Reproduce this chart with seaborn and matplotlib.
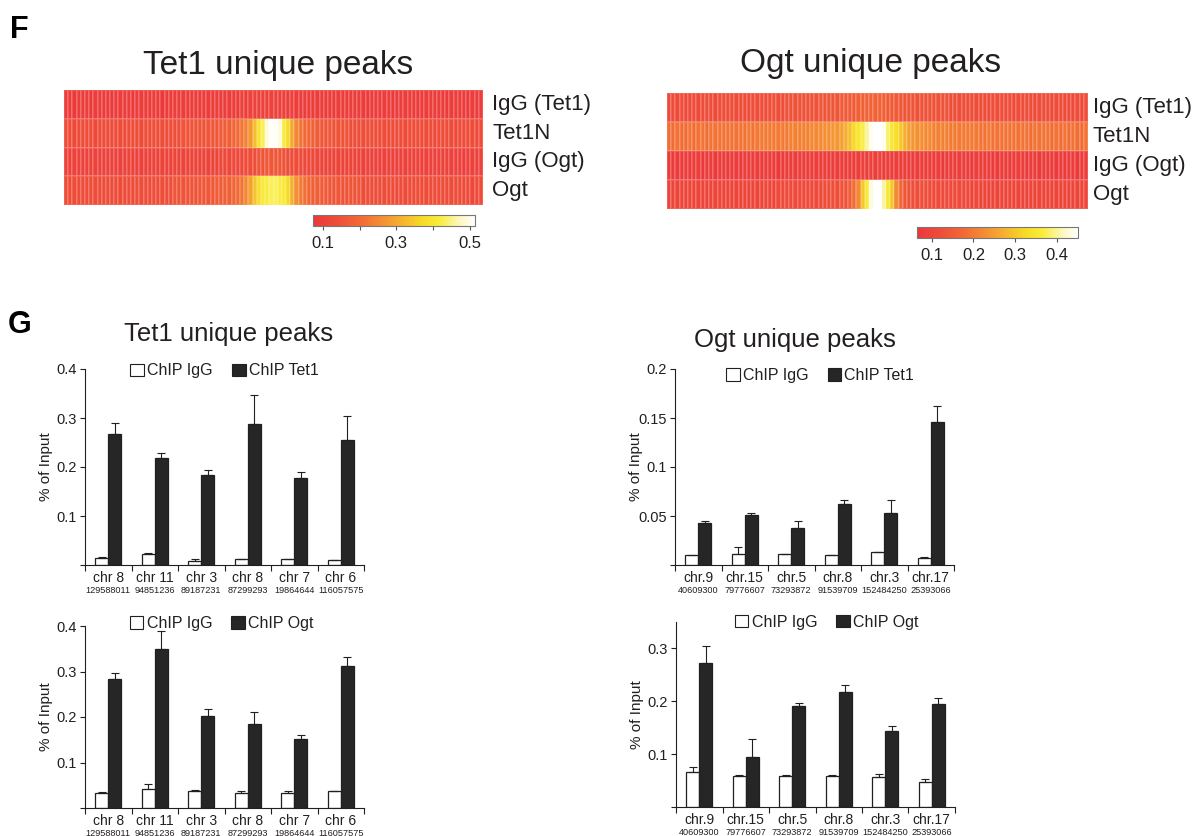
import numpy as np
import pandas as pd
import matplotlib
matplotlib.use("Agg")
import matplotlib.pyplot as plt
from matplotlib.colors import LinearSegmentedColormap
from matplotlib.patches import Patch
import seaborn as sns

sns.set_style("ticks")
plt.rcParams["font.family"] = ["Liberation Sans", "DejaVu Sans"]

INK = "#231F20"
W, H = 1199, 836

# ---------------- heatmap data (mean signal per bin around peak centre) ----------------
track_rows = ["IgG (Tet1)", "Tet1N", "IgG (Ogt)", "Ogt"]

tet1_peaks_igg_tet1 = [
    0.09, 0.09, 0.08, 0.09, 0.09, 0.09, 0.08, 0.09, 0.09, 0.09,
    0.09, 0.08, 0.09, 0.09, 0.09, 0.09, 0.08, 0.09, 0.09, 0.09,
    0.09, 0.09, 0.09, 0.08, 0.09, 0.09, 0.09, 0.09, 0.09, 0.09,
    0.09, 0.09, 0.09, 0.09, 0.09, 0.09, 0.09, 0.09, 0.09, 0.09,
    0.09, 0.09, 0.10, 0.09, 0.10, 0.10, 0.10, 0.10, 0.10, 0.10,
    0.10, 0.10, 0.10, 0.09, 0.10, 0.09, 0.09, 0.09, 0.09, 0.09,
    0.09, 0.09, 0.09, 0.09, 0.09, 0.09, 0.09, 0.09, 0.09, 0.09,
    0.09, 0.09, 0.08, 0.09, 0.09, 0.09, 0.09, 0.09, 0.08, 0.09,
    0.09, 0.09, 0.09, 0.09, 0.08, 0.09, 0.09, 0.09, 0.09, 0.09,
    0.09, 0.08, 0.09, 0.09, 0.09, 0.09, 0.08, 0.09, 0.09, 0.09,
]
tet1_peaks_tet1n = [
    0.13, 0.13, 0.12, 0.13, 0.13, 0.13, 0.13, 0.12, 0.13, 0.13,
    0.13, 0.13, 0.13, 0.13, 0.13, 0.13, 0.14, 0.13, 0.13, 0.14,
    0.14, 0.14, 0.14, 0.14, 0.14, 0.14, 0.14, 0.14, 0.15, 0.15,
    0.15, 0.15, 0.15, 0.15, 0.16, 0.16, 0.16, 0.17, 0.17, 0.18,
    0.19, 0.20, 0.22, 0.24, 0.27, 0.33, 0.39, 0.43, 0.49, 0.51,
    0.51, 0.49, 0.42, 0.37, 0.30, 0.25, 0.22, 0.20, 0.19, 0.18,
    0.17, 0.16, 0.16, 0.16, 0.15, 0.15, 0.15, 0.15, 0.14, 0.14,
    0.14, 0.14, 0.14, 0.14, 0.14, 0.14, 0.13, 0.13, 0.13, 0.14,
    0.13, 0.13, 0.13, 0.13, 0.13, 0.13, 0.13, 0.13, 0.12, 0.13,
    0.13, 0.13, 0.13, 0.12, 0.13, 0.13, 0.13, 0.13, 0.12, 0.13,
]
tet1_peaks_igg_ogt = [
    0.10, 0.10, 0.10, 0.10, 0.10, 0.10, 0.10, 0.10, 0.10, 0.10,
    0.10, 0.10, 0.10, 0.10, 0.10, 0.11, 0.10, 0.10, 0.10, 0.10,
    0.11, 0.10, 0.10, 0.11, 0.11, 0.10, 0.11, 0.11, 0.11, 0.11,
    0.11, 0.11, 0.11, 0.11, 0.11, 0.11, 0.11, 0.12, 0.12, 0.12,
    0.12, 0.12, 0.12, 0.13, 0.13, 0.14, 0.15, 0.15, 0.16, 0.16,
    0.16, 0.16, 0.15, 0.14, 0.14, 0.13, 0.13, 0.12, 0.12, 0.12,
    0.12, 0.11, 0.11, 0.11, 0.11, 0.11, 0.11, 0.11, 0.11, 0.11,
    0.11, 0.10, 0.11, 0.10, 0.10, 0.10, 0.10, 0.10, 0.10, 0.10,
    0.10, 0.10, 0.10, 0.10, 0.10, 0.10, 0.10, 0.10, 0.10, 0.10,
    0.10, 0.10, 0.10, 0.10, 0.10, 0.09, 0.10, 0.10, 0.10, 0.10,
]
tet1_peaks_ogt = [
    0.13, 0.13, 0.13, 0.13, 0.13, 0.13, 0.13, 0.13, 0.13, 0.13,
    0.13, 0.13, 0.13, 0.13, 0.13, 0.14, 0.13, 0.14, 0.14, 0.14,
    0.14, 0.14, 0.14, 0.14, 0.14, 0.14, 0.15, 0.15, 0.15, 0.15,
    0.15, 0.15, 0.16, 0.16, 0.16, 0.16, 0.17, 0.17, 0.18, 0.18,
    0.19, 0.20, 0.22, 0.25, 0.29, 0.34, 0.38, 0.41, 0.42, 0.43,
    0.43, 0.42, 0.41, 0.37, 0.31, 0.26, 0.23, 0.21, 0.19, 0.18,
    0.18, 0.17, 0.17, 0.16, 0.16, 0.16, 0.15, 0.15, 0.15, 0.15,
    0.15, 0.14, 0.14, 0.14, 0.14, 0.14, 0.14, 0.14, 0.14, 0.13,
    0.13, 0.13, 0.13, 0.13, 0.13, 0.13, 0.13, 0.13, 0.13, 0.13,
    0.13, 0.13, 0.13, 0.13, 0.13, 0.13, 0.13, 0.12, 0.13, 0.13,
]

ogt_peaks_igg_tet1 = [
    0.11, 0.12, 0.11, 0.12, 0.11, 0.11, 0.12, 0.11, 0.12, 0.12,
    0.12, 0.11, 0.12, 0.12, 0.12, 0.12, 0.12, 0.12, 0.12, 0.12,
    0.12, 0.12, 0.12, 0.12, 0.12, 0.13, 0.12, 0.12, 0.13, 0.13,
    0.13, 0.13, 0.13, 0.13, 0.13, 0.13, 0.14, 0.14, 0.14, 0.14,
    0.14, 0.15, 0.15, 0.15, 0.15, 0.16, 0.16, 0.16, 0.16, 0.16,
    0.16, 0.16, 0.15, 0.15, 0.15, 0.14, 0.14, 0.14, 0.14, 0.13,
    0.13, 0.13, 0.13, 0.13, 0.13, 0.13, 0.13, 0.12, 0.12, 0.12,
    0.12, 0.12, 0.12, 0.12, 0.12, 0.12, 0.12, 0.12, 0.12, 0.12,
    0.12, 0.12, 0.11, 0.12, 0.12, 0.12, 0.12, 0.11, 0.12, 0.12,
    0.12, 0.11, 0.12, 0.12, 0.11, 0.12, 0.11, 0.12, 0.11, 0.12,
]
ogt_peaks_tet1n = [
    0.18, 0.18, 0.19, 0.18, 0.18, 0.19, 0.18, 0.19, 0.19, 0.18,
    0.19, 0.19, 0.19, 0.19, 0.19, 0.19, 0.19, 0.19, 0.19, 0.20,
    0.19, 0.20, 0.20, 0.20, 0.20, 0.20, 0.20, 0.20, 0.20, 0.21,
    0.21, 0.21, 0.21, 0.21, 0.22, 0.22, 0.22, 0.23, 0.23, 0.24,
    0.24, 0.25, 0.27, 0.29, 0.32, 0.35, 0.37, 0.40, 0.44, 0.45,
    0.45, 0.44, 0.38, 0.35, 0.33, 0.30, 0.27, 0.25, 0.24, 0.23,
    0.23, 0.22, 0.22, 0.21, 0.21, 0.21, 0.21, 0.20, 0.20, 0.20,
    0.20, 0.20, 0.20, 0.20, 0.19, 0.19, 0.20, 0.19, 0.19, 0.19,
    0.19, 0.19, 0.19, 0.19, 0.19, 0.19, 0.18, 0.19, 0.19, 0.19,
    0.19, 0.18, 0.19, 0.18, 0.19, 0.18, 0.19, 0.18, 0.18, 0.19,
]
ogt_peaks_igg_ogt = [
    0.08, 0.07, 0.08, 0.07, 0.08, 0.07, 0.08, 0.08, 0.07, 0.08,
    0.08, 0.07, 0.08, 0.08, 0.07, 0.08, 0.08, 0.07, 0.08, 0.08,
    0.08, 0.08, 0.07, 0.08, 0.08, 0.08, 0.07, 0.08, 0.08, 0.08,
    0.08, 0.08, 0.08, 0.08, 0.08, 0.08, 0.08, 0.08, 0.08, 0.08,
    0.08, 0.08, 0.08, 0.08, 0.08, 0.08, 0.09, 0.08, 0.09, 0.08,
    0.09, 0.08, 0.08, 0.08, 0.08, 0.08, 0.08, 0.08, 0.08, 0.08,
    0.08, 0.08, 0.08, 0.08, 0.08, 0.07, 0.08, 0.08, 0.08, 0.08,
    0.08, 0.08, 0.07, 0.08, 0.08, 0.08, 0.08, 0.07, 0.08, 0.08,
    0.08, 0.07, 0.08, 0.08, 0.08, 0.07, 0.08, 0.08, 0.07, 0.08,
    0.08, 0.08, 0.07, 0.08, 0.07, 0.08, 0.08, 0.07, 0.08, 0.08,
]
ogt_peaks_ogt = [
    0.10, 0.10, 0.10, 0.10, 0.10, 0.10, 0.10, 0.10, 0.10, 0.10,
    0.10, 0.10, 0.10, 0.10, 0.10, 0.10, 0.10, 0.10, 0.10, 0.10,
    0.10, 0.10, 0.10, 0.11, 0.10, 0.10, 0.11, 0.11, 0.11, 0.11,
    0.11, 0.11, 0.11, 0.11, 0.11, 0.11, 0.11, 0.12, 0.12, 0.12,
    0.12, 0.13, 0.13, 0.15, 0.18, 0.22, 0.30, 0.36, 0.43, 0.45,
    0.45, 0.40, 0.35, 0.30, 0.22, 0.17, 0.14, 0.13, 0.12, 0.12,
    0.12, 0.12, 0.11, 0.11, 0.11, 0.11, 0.11, 0.11, 0.11, 0.11,
    0.11, 0.11, 0.10, 0.11, 0.10, 0.10, 0.10, 0.10, 0.10, 0.10,
    0.10, 0.10, 0.10, 0.10, 0.10, 0.10, 0.10, 0.10, 0.10, 0.10,
    0.10, 0.10, 0.10, 0.10, 0.10, 0.10, 0.10, 0.10, 0.10, 0.10,
]

tet1_cbar_ticks = [0.1, 0.2, 0.3, 0.4, 0.5]
tet1_cbar_labels = ["0.1", "", "0.3", "", "0.5"]
ogt_cbar_ticks = [0.1, 0.2, 0.3, 0.4]
ogt_cbar_labels = ["0.1", "0.2", "0.3", "0.4"]

# ---------------- ChIP-qPCR data (% of input, mean and SD) ----------------
tet1_loci_chr = ["chr 8", "chr 11", "chr 3", "chr 8", "chr 7", "chr 6"]
tet1_loci_pos = ["129588011", "94851236", "89187231", "87299293", "19864644", "116057575"]
ogt_loci_chr = ["chr.9", "chr.15", "chr.5", "chr.8", "chr.3", "chr.17"]
ogt_loci_pos = ["40609300", "79776607", "73293872", "91539709", "152484250", "25393066"]

# Tet1 unique peaks, Tet1 ChIP
t1_igg = [0.0135, 0.022, 0.009, 0.0115, 0.0115, 0.0095]
t1_igg_sd = [0.0025, 0.0015, 0.004, 0.0015, 0.0005, 0.0015]
t1_tet1 = [0.268, 0.218, 0.184, 0.2885, 0.178, 0.256]
t1_tet1_sd = [0.022, 0.010, 0.010, 0.058, 0.012, 0.049]
# Ogt unique peaks, Tet1 ChIP
og_igg = [0.010, 0.011, 0.011, 0.010, 0.013, 0.007]
og_igg_sd = [0.0007, 0.007, 0.0005, 0.0007, 0.0007, 0.001]
og_tet1 = [0.043, 0.051, 0.038, 0.062, 0.053, 0.146]
og_tet1_sd = [0.002, 0.0024, 0.0068, 0.004, 0.013, 0.016]
# Tet1 unique peaks, Ogt ChIP
t1o_igg = [0.033, 0.042, 0.037, 0.033, 0.033, 0.037]
t1o_igg_sd = [0.002, 0.011, 0.003, 0.0035, 0.0035, 0.0005]
t1o_ogt = [0.284, 0.350, 0.203, 0.184, 0.152, 0.311]
t1o_ogt_sd = [0.013, 0.038, 0.015, 0.028, 0.009, 0.021]
# Ogt unique peaks, Ogt ChIP
ogo_igg = [0.067, 0.058, 0.058, 0.058, 0.056, 0.0465]
ogo_igg_sd = [0.009, 0.002, 0.002, 0.002, 0.007, 0.007]
ogo_ogt = [0.273, 0.095, 0.191, 0.217, 0.143, 0.195]
ogo_ogt_sd = [0.031, 0.034, 0.005, 0.014, 0.010, 0.011]

ticks_04 = [0, 0.1, 0.2, 0.3, 0.4]
labels_04 = ["", "0.1", "0.2", "0.3", "0.4"]
ticks_02 = [0, 0.05, 0.1, 0.15, 0.2]
labels_02 = ["", "0.05", "0.1", "0.15", "0.2"]
ticks_03 = [0, 0.1, 0.2, 0.3]
labels_03 = ["", "0.1", "0.2", "0.3"]

# ---------------- styling helpers ----------------
heat_cmap = LinearSegmentedColormap.from_list(
    "heat_soft",
    [(0.0, "#EC383C"), (0.15, "#EE4E39"), (0.30, "#F26C35"), (0.50, "#F5A432"),
     (0.68, "#F7DC26"), (0.78, "#F9EC3A"), (0.90, "#FCF7B8"), (1.0, "#FFFFFF")],
)


def box(x0, y0, x1, y1):
    return [x0 / W, 1 - y1 / H, (x1 - x0) / W, (y1 - y0) / H]


fig = plt.figure(figsize=(W / 100, H / 100), dpi=100)


def heat_panel(rect, cbar_rect, rows, vmin, vmax, cticks, clabels, label_pad):
    ax = fig.add_axes(box(*rect))
    cax = fig.add_axes(box(*cbar_rect))
    df = pd.DataFrame(np.array(rows), index=track_rows)
    sns.heatmap(df, ax=ax, cmap=heat_cmap, vmin=vmin, vmax=vmax,
                cbar=True, cbar_ax=cax,
                cbar_kws={"orientation": "horizontal", "ticks": cticks},
                xticklabels=False, yticklabels=True,
                linewidths=0.3, linecolor=(1, 1, 1, 0.14))
    ax.yaxis.tick_right()
    ax.tick_params(axis="y", length=0, labelsize=16, labelcolor=INK, pad=label_pad)
    for t in ax.get_yticklabels():
        t.set_rotation(0)
        t.set_va("center")
    ax.tick_params(axis="x", length=0)
    cax.set_xticklabels(clabels)
    cax.tick_params(axis="x", length=3, width=0.8, color="#555555",
                    labelsize=12, labelcolor=INK, pad=4)
    cbar = ax.collections[0].colorbar
    cbar.outline.set_edgecolor("#777777")
    cbar.outline.set_linewidth(0.8)
    return ax


heat_panel((64, 90, 483, 205), (313, 215, 475, 226),
           [tet1_peaks_igg_tet1, tet1_peaks_tet1n, tet1_peaks_igg_ogt, tet1_peaks_ogt],
           0.073, 0.515, tet1_cbar_ticks, tet1_cbar_labels, 6.5)
heat_panel((667, 93, 1088, 209), (917, 227, 1078, 238),
           [ogt_peaks_igg_tet1, ogt_peaks_tet1n, ogt_peaks_igg_ogt, ogt_peaks_ogt],
           0.065, 0.45, ogt_cbar_ticks, ogt_cbar_labels, 3.5)


def bar_panel(rect, chroms, coords, igg, igg_sd, chip, chip_sd, chip_name,
              ytop, yticks, ylabels, legend_y, legend_x=0.5):
    ax = fig.add_axes(box(*rect))
    df = pd.DataFrame({
        "locus": coords + coords,
        "sample": ["ChIP IgG"] * len(coords) + [chip_name] * len(coords),
        "value": igg + chip,
    })
    sns.barplot(data=df, x="locus", y="value", hue="sample", order=coords,
                hue_order=["ChIP IgG", chip_name],
                palette={"ChIP IgG": "white", chip_name: "#262626"},
                width=0.56, edgecolor=INK, linewidth=0.9, errorbar=None,
                legend=False, ax=ax)
    for container, sds in zip(ax.containers, [igg_sd, chip_sd]):
        for bar, sd in zip(container, sds):
            xc = bar.get_x() + bar.get_width() / 2
            ax.errorbar(xc, bar.get_height(), yerr=[[0], [sd]], fmt="none",
                        ecolor=INK, elinewidth=0.8, capsize=2.6, capthick=0.8)
    n = len(coords)
    ax.set_xlim(-0.5, n - 0.5)
    ax.set_ylim(0, ytop)
    ax.set_yticks(yticks)
    ax.set_yticklabels(ylabels)
    ax.set_xticks(range(n))
    ax.set_xticklabels(chroms)
    ax.set_xticks(np.arange(-0.5, n, 1.0), minor=True)
    ax.tick_params(axis="x", which="major", length=0, labelsize=10,
                   labelcolor=INK, pad=4)
    ax.tick_params(axis="x", which="minor", length=4, width=0.8, color=INK)
    ax.tick_params(axis="y", length=3.5, width=0.8, color=INK, labelsize=10.5,
                   labelcolor=INK, pad=2.5)
    for i, p in enumerate(coords):
        ax.annotate(p, xy=(i, 0), xycoords=("data", "axes fraction"),
                    xytext=(0, -15), textcoords="offset points",
                    ha="center", va="top", fontsize=6.6, color=INK)
    for s in ("top", "right"):
        ax.spines[s].set_visible(False)
    for s in ("left", "bottom"):
        ax.spines[s].set_color(INK)
        ax.spines[s].set_linewidth(0.8)
    ax.set_xlabel("")
    ax.set_ylabel("% of Input", fontsize=11, color=INK)
    ax.yaxis.set_label_coords(-0.115, 0.5)
    handles = [Patch(facecolor="white", edgecolor=INK, linewidth=0.8),
               Patch(facecolor="#262626", edgecolor=INK, linewidth=0.8)]
    ax.legend(handles, ["ChIP IgG", chip_name], loc="center",
              bbox_to_anchor=(legend_x, legend_y), ncol=2, frameon=False,
              fontsize=11.5, handlelength=0.85, handleheight=0.85,
              handletextpad=0.2, columnspacing=1.2, borderaxespad=0,
              labelcolor=INK)
    return ax


bar_panel((85, 369, 364, 565), tet1_loci_chr, tet1_loci_pos,
          t1_igg, t1_igg_sd, t1_tet1, t1_tet1_sd, "ChIP Tet1",
          0.4, ticks_04, labels_04, 0.99)
bar_panel((675, 369, 954, 565), ogt_loci_chr, ogt_loci_pos,
          og_igg, og_igg_sd, og_tet1, og_tet1_sd, "ChIP Tet1",
          0.2, ticks_02, labels_02, 0.965, legend_x=0.52)
bar_panel((85, 626, 364, 808), tet1_loci_chr, tet1_loci_pos,
          t1o_igg, t1o_igg_sd, t1o_ogt, t1o_ogt_sd, "ChIP Ogt",
          0.4, ticks_04, labels_04, 1.015, legend_x=0.49)
bar_panel((676, 622, 955, 807), ogt_loci_chr, ogt_loci_pos,
          ogo_igg, ogo_igg_sd, ogo_ogt, ogo_ogt_sd, "ChIP Ogt",
          0.35, ticks_03, labels_03, 1.0, legend_x=0.54)

# ---------------- titles and panel letters ----------------
fig.text(10 / W, 1 - 38 / H, "F", fontsize=22, fontweight="bold", color="black",
         ha="left", va="baseline")
fig.text(8 / W, 1 - 333 / H, "G", fontsize=22, fontweight="bold", color="black",
         ha="left", va="baseline")
fig.text(278 / W, 1 - 74 / H, "Tet1 unique peaks", fontsize=24, color=INK,
         ha="center", va="baseline")
fig.text(871 / W, 1 - 72 / H, "Ogt unique peaks", fontsize=24, color=INK,
         ha="center", va="baseline")
fig.text(229 / W, 1 - 341 / H, "Tet1 unique peaks", fontsize=18.5, color=INK,
         ha="center", va="baseline")
fig.text(795 / W, 1 - 347 / H, "Ogt unique peaks", fontsize=18.5, color=INK,
         ha="center", va="baseline")

fig.savefig("out.png", dpi=100, facecolor="white")
